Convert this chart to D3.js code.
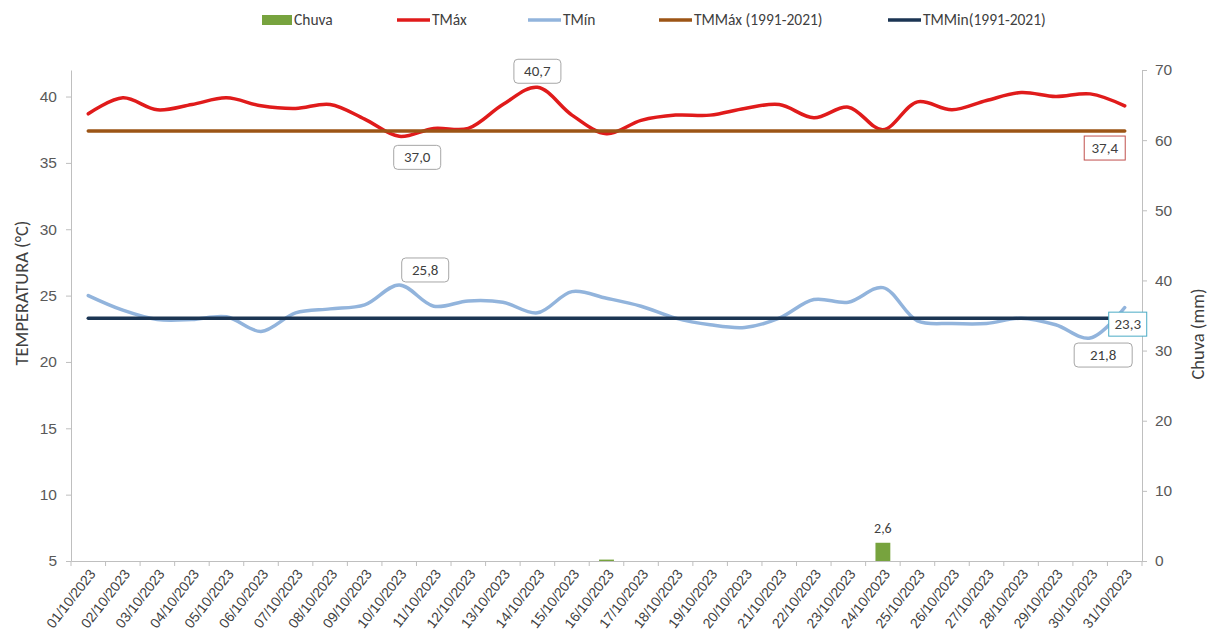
<!DOCTYPE html>
<html>
<head>
<meta charset="utf-8">
<script src="https://cdn.jsdelivr.net/npm/d3@7"></script>
<style>
  body { margin: 0; background: #fff; }
  svg { font-family: Carlito, Calibri, "Open Sans", sans-serif; }
</style>
</head>
<body>
<div id="chart"></div>
<script>
// chart values
var dates = ['01/10/2023','02/10/2023','03/10/2023','04/10/2023','05/10/2023','06/10/2023','07/10/2023',
  '08/10/2023','09/10/2023','10/10/2023','11/10/2023','12/10/2023','13/10/2023','14/10/2023','15/10/2023',
  '16/10/2023','17/10/2023','18/10/2023','19/10/2023','20/10/2023','21/10/2023','22/10/2023','23/10/2023',
  '24/10/2023','25/10/2023','26/10/2023','27/10/2023','28/10/2023','29/10/2023','30/10/2023','31/10/2023'];
var chuva = [0,0,0,0,0,0,0,0,0,0,0,0,0,0,0,0.2,0,0,0,0,0,0,0,2.6,0,0,0,0,0,0,0];
var tmax = [38.7,39.9,39.0,39.4,39.9,39.3,39.1,39.4,38.3,37.0,37.6,37.6,39.4,40.7,38.6,37.2,
  38.2,38.6,38.6,39.1,39.4,38.4,39.2,37.5,39.6,39.0,39.7,40.3,40.0,40.2,39.3];
var tmin = [25.0,23.9,23.2,23.2,23.4,22.3,23.7,24.0,24.3,25.8,24.2,24.6,24.5,23.7,25.3,24.8,
  24.2,23.3,22.8,22.6,23.3,24.7,24.5,25.6,23.1,22.9,22.9,23.3,22.8,21.8,24.1];
var tmmax = 37.4;   // normal 1991-2021
var tmmin = 23.3;
var tempTicks = [5,10,15,20,25,30,35,40];
var chuvaTicks = [0,10,20,30,40,50,60,70];

var W = 1209, H = 644;
var mLeft = 71, mRight = 1142, mTop = 70, mBottom = 561;

var svg = d3.select('#chart').append('svg')
  .attr('width', W)
  .attr('height', H);

var x = d3.scaleBand().domain(dates).range([mLeft, mRight]);
var cx = function(i) { return x(dates[i]) + x.bandwidth() / 2; };
var yT = d3.scaleLinear().domain([5, 42]).range([mBottom, mTop]);
var yC = d3.scaleLinear().domain([0, 70]).range([mBottom, mTop]);

var axisColor = '#bfbfbf', textColor = '#595959';

// axes
var gl = svg.append('g')
  .attr('transform', 'translate(' + mLeft + ',0)')
  .call(d3.axisLeft(yT).tickValues(tempTicks).tickSize(5).tickSizeOuter(0).tickPadding(9));
var gr = svg.append('g')
  .attr('transform', 'translate(' + mRight + ',0)')
  .call(d3.axisRight(yC).tickValues(chuvaTicks).tickSize(5).tickSizeOuter(0).tickPadding(8));
var gx = svg.append('g')
  .attr('transform', 'translate(0,' + mBottom + ')')
  .call(d3.axisBottom(x).tickSize(0).tickSizeOuter(0).tickPadding(0));

[gl, gr, gx].forEach(function(g) {
  g.select('.domain').attr('stroke', axisColor);
  g.selectAll('.tick line').attr('stroke', axisColor);
  g.selectAll('text').attr('fill', textColor).style('font-size', '15.5px');
});

// x ticks sit on the band boundaries
var edges = dates.map(function(d) { return x(d); }).concat([mRight]);
gx.selectAll('.edge').data(edges).enter().append('line')
  .attr('x1', function(d) { return d; }).attr('x2', function(d) { return d; })
  .attr('y1', 0).attr('y2', 5)
  .attr('stroke', axisColor);

gx.selectAll('.tick text')
  .style('font-size', '14px')
  .attr('fill', '#404040')
  .attr('text-anchor', 'end')
  .attr('dy', 0)
  .attr('transform', 'translate(8,13) rotate(-52)');

svg.append('text')
  .attr('transform', 'translate(28,293) rotate(-90)')
  .attr('text-anchor', 'middle')
  .style('font-size', '18.5px')
  .attr('fill', '#404040')
  .text('TEMPERATURA (°C)');

svg.append('text')
  .attr('transform', 'translate(1204,334) rotate(-90)')
  .attr('text-anchor', 'middle')
  .style('font-size', '18.5px')
  .attr('fill', '#404040')
  .text('Chuva (mm)');

// rain bars
var barW = x.bandwidth() * 0.43;
svg.append('g').selectAll('rect')
  .data(chuva)
  .enter()
  .append('rect')
  .attr('x', function(d, i) { return cx(i) - barW / 2; })
  .attr('y', function(d) { return yC(d); })
  .attr('width', barW)
  .attr('height', function(d) { return mBottom - yC(d); })
  .attr('fill', '#77a33e');

var maxRain = chuva.indexOf(d3.max(chuva));
svg.append('text')
  .attr('x', cx(maxRain))
  .attr('y', yC(chuva[maxRain]) - 10)
  .attr('text-anchor', 'middle')
  .style('font-size', '14px')
  .attr('fill', '#404040')
  .text(String(chuva[maxRain]).replace('.', ','));

// lines
var line = d3.line()
  .x(function(d, i) { return cx(i); })
  .y(function(d) { return yT(d); })
  .curve(d3.curveCatmullRom.alpha(0.5));

var series = [
  { values: tmax, color: '#e01b1b' },
  { values: tmin, color: '#92b4dc' },
  { values: dates.map(function() { return tmmax; }), color: '#9c5516' },
  { values: dates.map(function() { return tmmin; }), color: '#1b3553' }
];
series.forEach(function(s) {
  svg.append('path')
    .datum(s.values)
    .attr('d', line)
    .attr('fill', 'none')
    .attr('stroke', s.color)
    .attr('stroke-width', 3.5)
    .attr('stroke-linecap', 'round');
});

// data labels
function label(i, v, dx, dy, border, rounded, w) {
  var px = cx(i) + dx, py = yT(v) + dy;
  w = w || 47;
  var h = 24;
  svg.append('rect')
    .attr('x', px - w / 2).attr('y', py - h / 2)
    .attr('width', w).attr('height', h)
    .attr('rx', rounded ? 4 : 0)
    .attr('fill', '#fff')
    .attr('stroke', border)
    .attr('stroke-width', 1);
  svg.append('text')
    .attr('x', px).attr('y', py + 5)
    .attr('text-anchor', 'middle')
    .style('font-size', '15px')
    .attr('fill', '#404040')
    .text(v.toFixed(1).replace('.', ','));
}

var iMax = tmax.indexOf(d3.max(tmax));
var iMaxLow = tmax.indexOf(d3.min(tmax));
var iMinHigh = tmin.indexOf(d3.max(tmin));
var iMinLow = tmin.indexOf(d3.min(tmin));
var last = dates.length - 1;
label(iMax, tmax[iMax], 0, -16, '#a6a6a6', true);
label(iMaxLow, tmax[iMaxLow], 18, 21, '#a6a6a6', true);
label(iMinHigh, tmin[iMinHigh], 26, -15, '#a6a6a6', true);
label(iMinLow, tmin[iMinLow], 13, 17, '#a6a6a6', true, 58);
label(last, tmmax, -20, 17, '#c0504d', false, 41);
label(last, tmmin, 3, 6, '#4bacc6', false, 38);

// legend
var legend = [
  { name: 'Chuva', color: '#77a33e', bar: true, x: 262 },
  { name: 'TMáx', color: '#e01b1b', x: 397 },
  { name: 'TMín', color: '#92b4dc', x: 528 },
  { name: 'TMMáx (1991-2021)', color: '#9c5516', x: 659 },
  { name: 'TMMin(1991-2021)', color: '#1b3553', x: 888 }
];
var lg = svg.append('g').selectAll('g')
  .data(legend)
  .enter()
  .append('g')
  .attr('transform', function(d) { return 'translate(' + d.x + ',20)'; });
lg.each(function(d) {
  var g = d3.select(this);
  if (d.bar) {
    g.append('rect').attr('x', 0).attr('y', -5).attr('width', 30).attr('height', 10).attr('fill', d.color);
  } else {
    g.append('line').attr('x1', 0).attr('x2', 33).attr('y1', 0).attr('y2', 0)
      .attr('stroke', d.color).attr('stroke-width', 3.5);
  }
});
lg.append('text')
  .attr('x', function(d) { return d.bar ? 32 : 35; })
  .attr('y', 5)
  .style('font-size', '15.5px')
  .attr('fill', '#404040')
  .text(function(d) { return d.name; });
</script>
</body>
</html>
